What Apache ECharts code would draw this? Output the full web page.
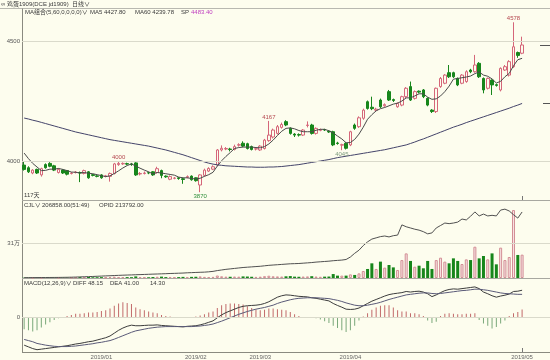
<!DOCTYPE html>
<html><head><meta charset="utf-8">
<script src="https://cdn.jsdelivr.net/npm/echarts@6/dist/echarts.min.js"></script>
<style>html,body{margin:0;padding:0;background:#fdfdee;}#c{width:550px;height:360px;}</style>
</head><body><div id="c"></div>
<script>
// ---------- DATA ----------
const opens = [3983,3972,3950,3965,3942,3985,3990,3980,3952,3962,3960,3948,3952,3952,3948,3955,3943,3938,3942,3936,
3936,3948,3985,3988,3989,3988,3992,3946,3948,3951,3955,3952,3960,3937,3924,3928,3930,3926,3932,3937,
3930,3900,3940,3958,3966,3983,4046,4050,4050,4048,4066,4074,4072,4060,4050,4046,4052,4085,4100,4115,
4140,4164,4136,4112,4110,4108,4148,4150,4115,4128,4131,4124,4122,4075,4066,4074,4067,4150,4143,4178,
4247,4224,4212,4254,4230,4289,4256,4226,4233,4268,4310,4261,4291,4296,4261,4212,4206,4310,4324,4368,
4368,4344,4324,4331,4379,4372,4407,4344,4303,4337,4318,4296,4379,4358,4393,4452,4449];
const closes = [3965,3955,3962,3950,3968,3972,3978,3962,3965,3950,3945,3950,3954,3950,3960,3930,3940,3936,3930,3938,
3948,3988,3990,3990,3987,3985,3942,3948,3950,3950,3942,3968,3940,3934,3935,3929,3927,3923,3935,3922,
3918,3942,3962,3969,3976,4046,4053,4052,4048,4060,4068,4062,4052,4048,4051,4062,4087,4108,4129,4143,
4152,4150,4115,4108,4108,4129,4150,4115,4136,4130,4129,4121,4067,4073,4068,4053,4122,4136,4180,4212,
4219,4218,4216,4226,4235,4254,4252,4240,4268,4303,4254,4289,4287,4268,4233,4206,4303,4344,4358,4351,
4351,4317,4358,4372,4372,4400,4351,4296,4344,4317,4315,4386,4393,4414,4476,4440,4483.4];
const lows = [3960,3950,3945,3946,3935,3968,3974,3958,3948,3946,3940,3944,3948,3912,3944,3926,3936,3932,3926,3932,
3914,3944,3980,3984,3983,3980,3938,3940,3944,3945,3938,3948,3928,3930,3920,3924,3922,3905,3928,3918,
3914,3870,3935,3954,3962,3978,4040,4045,4040,4044,4060,4058,4048,4044,4044,4042,4048,4080,4094,4110,
4135,4145,4110,4100,4102,4104,4140,4110,4110,4124,4125,4117,4062,4068,4045,4048,4062,4130,4138,4172,
4214,4212,4206,4220,4226,4250,4246,4222,4228,4262,4250,4256,4282,4262,4228,4200,4200,4305,4320,4346,
4346,4312,4320,4326,4366,4368,4346,4282,4298,4275,4310,4290,4375,4352,4388,4430,4445];
const highs = [3998,3978,3966,3968,3972,3990,3995,3984,3970,3966,3962,3954,3958,3956,3964,3958,3946,3941,3945,3942,
3952,3992,4000,3994,3993,3992,3995,3954,3956,3955,3958,3976,3964,3940,3940,3933,3933,3930,3940,3940,
3932,3945,3968,3974,3982,4050,4065,4058,4055,4068,4074,4082,4076,4064,4056,4066,4092,4167,4135,4150,
4160,4170,4140,4116,4115,4133,4165,4155,4140,4135,4134,4128,4126,4080,4072,4078,4126,4156,4186,4218,
4252,4268,4222,4260,4240,4296,4260,4244,4272,4308,4331,4294,4294,4300,4265,4216,4306,4350,4362,4400,
4372,4348,4362,4378,4384,4442,4412,4348,4348,4340,4322,4390,4400,4420,4578,4456,4518];
const ma5 = [4033,4010,3990,3975,3960,3961,3966,3966,3969,3965,3960,3954,3953,3950,3952,3949,3947,3943,3939,3935,
3938,3948,3959,3971,3981,3988,3979,3970,3962,3955,3946,3952,3950,3947,3944,3941,3933,3930,3930,3927,
3925,3928,3936,3943,3953,3979,4001,4019,4035,4052,4056,4058,4058,4058,4056,4055,4060,4071,4087,4106,
4124,4136,4138,4134,4127,4122,4122,4122,4128,4132,4132,4126,4117,4104,4092,4076,4077,4090,4112,4141,
4174,4193,4209,4218,4223,4230,4237,4241,4250,4263,4263,4271,4280,4280,4266,4257,4259,4271,4289,4312,
4341,4344,4347,4350,4354,4364,4371,4358,4353,4342,4325,4332,4351,4365,4397,4422,4427.80];
const ma60 = [4179,4175,4170,4166,4161,4156,4151,4146,4141,4136,4131,4126,4121,4117,4113,4109,4105,4101,4097,4093,
4089,4086,4083,4080,4077,4074,4071,4068,4065,4062,4058,4054,4050,4046,4041,4036,4031,4026,4020,4014,
4008,4002,3996,3991,3987,3984,3982,3980,3979,3978,3977,3976,3975,3975,3974,3974,3974,3975,3975,3976,
3977,3979,3981,3983,3985,3988,3991,3994,3997,4000,4003,4006,4010,4014,4017,4020,4023,4026,4029,4032,
4035,4038,4041,4044,4047,4051,4055,4059,4063,4067,4073,4079,4086,4092,4099,4106,4113,4120,4127,4134,
4141,4147,4153,4160,4166,4172,4178,4184,4190,4196,4202,4208,4214,4220,4227,4233,4239.78];
const volumes = [3000,2500,2800,3200,3000,2600,2400,3100,2900,3300,3500,4000,
6000,8000,7000,9000,6500,7000,8000,6000,9000,12000,9000,7000,8000,7500,14000,8000,7000,6500,9000,11000,12000,8000,9000,7000,8000,10000,9000,10000,11000,
14000,10000,9000,10000,22000,15000,12000,11000,13000,12000,14000,13000,11000,10000,12000,16000,20000,15000,14000,13000,15000,17000,12000,11000,13000,14000,16000,13000,11000,12000,13000,
35000,21000,21000,21000,32000,27000,41000,62000,80000,130000,80000,145000,92000,115000,94000,71000,159000,218000,151000,100000,109000,86000,151000,80000,159000,180000,145000,130000,174000,151000,124000,165000,159000,277000,174000,195000,165000,218000,121000,269000,159000,186000,602000,204000,206858];
const openInterest = [1200,1300,1300,1400,1500,1600,1700,1800,1900,2100,2300,2600,3000,3500,4000,4500,5000,5600,6200,6800,
7300,8000,8600,9100,9600,10000,10600,11000,11500,12000,12500,13000,13500,14000,14600,15000,15500,16000,16800,17400,
18000,18500,19000,20000,21500,24000,26000,28000,29500,31000,32500,34000,35000,36000,37000,38000,39500,41000,
42000,43000,44000,45000,46000,46500,47000,48000,49000,50000,51500,52500,53500,54500,56000,57000,58000,60000,68000,80000,
90000,105000,117000,126000,130000,134000,136000,133000,137000,139000,172000,166000,162000,158000,155000,150000,143000,146000,162000,170000,
178000,176000,178000,181000,191000,188000,200000,214000,201000,207000,201000,203000,201000,220000,223000,217000,205000,194000,213792];
const diff = [-48,-51,-54,-56,-55,-54,-53,-52,-51,-50,-49,-47.5,-46,-45,-43.5,-42,-41,-39,-37,-35,
-32,-27,-22,-18,-15,-13,-14,-14,-13.5,-13,-13,-12.5,-13.5,-14,-14.5,-15,-15.5,-16,-15,-14.5,
-14,-12.5,-10.5,-8,-5.5,0,5,9,12,15,18,20,21,21.5,22,23,25,28,32,36,
38.5,40,39.5,38.5,37.5,37,36.5,35,34,32.5,31,29.5,25,21.5,18.5,15,14.5,15,17,21,
25,29,32,35,38,40.5,42,43,44,46,45,46,46.5,45,42,37,40,44,47.5,49.5,
50.5,50,51,52,53,54,51,45,42,38.5,36,38,39.5,41.5,46,46.5,48.15];
const dea = [-38,-40,-42,-45,-46.5,-48,-49,-50,-50.5,-50.5,-50.5,-50,-49.5,-48.5,-47.5,-46.5,-45.5,-44,-43,-41.5,
-40,-37.5,-34.5,-31.5,-28.5,-25.5,-23,-21.5,-20,-18.5,-17.5,-16.5,-16,-15.5,-15.5,-15.5,-15.5,-15.5,-15.5,-15.5,
-15,-14.5,-13.5,-12.5,-11,-8.5,-6,-3,0,3,6,8.5,11,13,15,16.5,18,20,22,25,
27.5,29.5,31.5,33,34,34.5,35,35,35,34.5,34,33.5,32,30.5,28.5,26,24,22,21,21,
22,23.5,25,27,29.5,32,34,36,38,40,41,42,43,43.5,43.5,42.5,42,42.5,43.5,44.5,
45.5,46.5,47.5,48,49,50,50,49,48,46.5,45,43.5,42.5,42,41.5,41,41.00];
const macdHist = [-20,-22,-24,-22,-17,-12,-8,-4,-1,1,3,5,7,7,8,9,9,10,12,13,
16,21,25,27,26,24,18,15,13,11,9,8,5,3,2,1,0.5,-0.5,0.5,1,
2,4,6,9,11,17,22,24,25,25,24,23,20,17,14,13,14,16,16,15,
14,13,10,6,3,1,0.5,-0.5,-1,-3,-6,-9,-14,-18,-22,-25,-22,-14,-5,2,
8,14,18,21,22,22,18,13,11,11,8,8,6,3,-5,-9,-7,3,7,8,
7,6,6,7,7,8,-4,-10,-14,-19,-16,-10,-5,3,8,10,14.30];
// x-axis month labels (candle index where each label sits)
const monthIndex = [18, 40, 55, 76, 116];
const monthLabels = ['2019/01', '2019/02', '2019/03', '2019/04', '2019/05'];
// price tick labels / volume tick label
const priceTicks = [4000, 4500];
const volTick = 310000, volTickLabel = '31万';
// extreme labels: [index, 'high' | 'low']
const extremes = [[114,'high'],[57,'high'],[22,'high'],[74,'low'],[41,'low']];
const slots = 123; // candle slots across the width (last ones empty)

// ---------- CHART ----------
const BG = '#fdfdee', UP = '#d56679', DN = '#17861b', TXT = '#3a3a3a', LINEC = '#8a8a80', GL = '#dadacb';
const FONT = '"Liberation Sans","Noto Sans CJK SC",sans-serif';
const FS = 6;
const cats = Array.from({length: slots}, (_, i) => String(i));
const candleData = opens.map((o, i) => [o, closes[i], lows[i], highs[i]]);
const volData = volumes.map((v, i) => ({value: v, itemStyle: closes[i] >= opens[i]
  ? {color: '#f7e2e2', borderColor: '#d38e95', borderWidth: 1} : {color: DN}}));
const histData = macdHist.map(v => ({value: v, itemStyle: {color: v >= 0 ? '#c26a6a' : '#7aa87a'}}));
const mp = extremes.map(([i, t]) => {
  const v = t === 'high' ? highs[i] : lows[i];
  const col = t === 'high' ? '#b5474f' : (i === 41 ? '#2f8f3a' : '#7d9a7d');
  return {coord: [String(i), v], value: v,
    label: {show: true, position: t === 'high' ? 'top' : 'bottom', distance: 1, color: col,
      fontSize: FS, fontFamily: FONT, formatter: String(Math.round(v))}};
});
const xBase = {type: 'category', data: cats, boundaryGap: true, axisLine: {show: false},
  axisTick: {show: false}, axisLabel: {show: false}, splitLine: {show: false}};
const yLab = {fontSize: FS, color: '#555', fontFamily: FONT, margin: 2};

const chart = echarts.init(document.getElementById('c'));
chart.setOption({
  animation: false, backgroundColor: BG, textStyle: {fontFamily: FONT},
  grid: [
    {left: 22, right: 0, top: 5, height: 204},
    {left: 22, right: 0, top: 200, height: 78},
    {left: 22, right: 0, top: 278, height: 74.5}
  ],
  xAxis: [
    Object.assign({gridIndex: 0}, xBase),
    Object.assign({gridIndex: 1}, xBase),
    Object.assign({}, xBase, {gridIndex: 2, axisLabel: {show: true, fontSize: FS, color: '#666', fontFamily: FONT, margin: 2,
      interval: (idx) => monthIndex.includes(idx),
      formatter: (val, idx) => { const k = monthIndex.indexOf(idx); return k >= 0 ? monthLabels[k] : ''; }}})
  ],
  yAxis: [
    {gridIndex: 0, type: 'value', min: 3800, max: 4650, interval: 50, axisLine: {show: false}, axisTick: {show: false},
     splitLine: {show: false}, axisLabel: Object.assign({formatter: v => priceTicks.includes(v) ? String(v) : ''}, yLab)},
    {gridIndex: 1, type: 'value', min: 0, max: 690857, interval: 310000, axisLine: {show: false}, axisTick: {show: false},
     splitLine: {show: false}, axisLabel: Object.assign({formatter: v => v === volTick ? volTickLabel : ''}, yLab)},
    {gridIndex: 1, type: 'value', min: 0, max: 252600, show: false},
    {gridIndex: 2, type: 'value', min: -60, max: 69.6, interval: 10, axisLine: {show: false}, axisTick: {show: false},
     splitLine: {show: false}, axisLabel: Object.assign({formatter: v => v === 0 ? '0' : ''}, yLab)}
  ],
  series: [
    {type: 'candlestick', xAxisIndex: 0, yAxisIndex: 0, data: candleData, barWidth: 3,
     itemStyle: {color: BG, color0: DN, borderColor: UP, borderColor0: DN, borderWidth: 1},
     markLine: {silent: true, symbol: 'none', label: {show: false}, lineStyle: {color: GL, width: 1, type: 'solid'},
       data: priceTicks.map(v => ({yAxis: v}))},
     markPoint: {symbol: 'circle', symbolSize: 0, data: mp}},
    {type: 'line', xAxisIndex: 0, yAxisIndex: 0, data: ma5, showSymbol: false, lineStyle: {color: '#4a4a4a', width: 1}},
    {type: 'line', xAxisIndex: 0, yAxisIndex: 0, data: ma60, showSymbol: false, lineStyle: {color: '#44446a', width: 1}},
    {type: 'bar', xAxisIndex: 1, yAxisIndex: 1, data: volData, barWidth: 3,
     markLine: {silent: true, symbol: 'none', label: {show: false}, lineStyle: {color: GL, width: 1, type: 'solid'},
       data: [{yAxis: volTick}]}},
    {type: 'line', xAxisIndex: 1, yAxisIndex: 2, data: openInterest, showSymbol: false, lineStyle: {color: '#505050', width: 1}},
    {type: 'bar', xAxisIndex: 2, yAxisIndex: 3, data: histData, barWidth: 1,
     markLine: {silent: true, symbol: 'none', label: {show: false}, lineStyle: {color: GL, width: 1, type: 'solid'},
       data: [{yAxis: 0}]}},
    {type: 'line', xAxisIndex: 2, yAxisIndex: 3, data: diff, showSymbol: false, lineStyle: {color: '#3c3c3c', width: 1}},
    {type: 'line', xAxisIndex: 2, yAxisIndex: 3, data: dea, showSymbol: false, lineStyle: {color: '#5a5a78', width: 1}}
  ]
});

const last = closes.length - 1;
const t = (x, y, text, fill) => ({type: 'text', x, y, silent: true,
  style: {text, fill: fill || TXT, fontSize: FS, fontFamily: FONT, verticalAlign: 'middle', align: 'left'}});
const ln = (x1, y1, x2, y2, c) => ({type: 'line', silent: true, shape: {x1, y1, x2, y2}, style: {stroke: c || LINEC, lineWidth: 1}});
const yClose = chart.convertToPixel({xAxisIndex: 0, yAxisIndex: 0}, [0, closes[last]])[1];
const yMa60 = chart.convertToPixel({xAxisIndex: 0, yAxisIndex: 0}, [0, ma60[last]])[1];
const xLast = chart.convertToPixel({xAxisIndex: 2, yAxisIndex: 3}, [String(last), 0])[0];
chart.setOption({graphic: [
  ln(0, 8.5, 550, 8.5, '#b8b8b0'),
  ln(22.5, 8.5, 22.5, 352.5),
  ln(22, 200.5, 550, 200.5, '#a8a8a0'),
  ln(22, 278.5, 550, 278.5, '#a8a8a0'),
  ln(22, 352.5, 550, 352.5),
  ln(540, Math.round(yClose) + 0.5, 550, Math.round(yClose) + 0.5, '#555'),
  ln(543, Math.round(yMa60) + 0.5, 550, Math.round(yMa60) + 0.5, '#555'),
  ln(Math.round(xLast) + 0.5, 196, Math.round(xLast) + 0.5, 200, '#777'),
  ln(Math.round(xLast) + 0.5, 348, Math.round(xLast) + 0.5, 352, '#777'),
  t(1, 4, '∞ 鸡蛋1909(DCE jd1909)  日线∨'),
  t(25, 12, 'MA组合(5,60,0,0,0,0)∨'),
  t(90, 12, 'MA5 ' + ma5[last].toFixed(2)),
  t(135, 12, 'MA60 ' + ma60[last].toFixed(2)),
  t(181, 12, 'SP'),
  t(191, 12, closes[last].toFixed(2), '#c040c0'),
  t(24, 195, '117天'),
  t(24, 205, 'CJL∨'),
  t(42, 205, volumes[last].toFixed(2) + '(51:49)'),
  t(99, 205, 'OPID ' + openInterest[last].toFixed(2)),
  t(24, 283, 'MACD(12,26,9)∨'),
  t(73, 283, 'DIFF ' + diff[last].toFixed(2)),
  t(110, 283, 'DEA ' + dea[last].toFixed(2)),
  t(150, 283, macdHist[last].toFixed(2))
]});
</script>
</body></html>
